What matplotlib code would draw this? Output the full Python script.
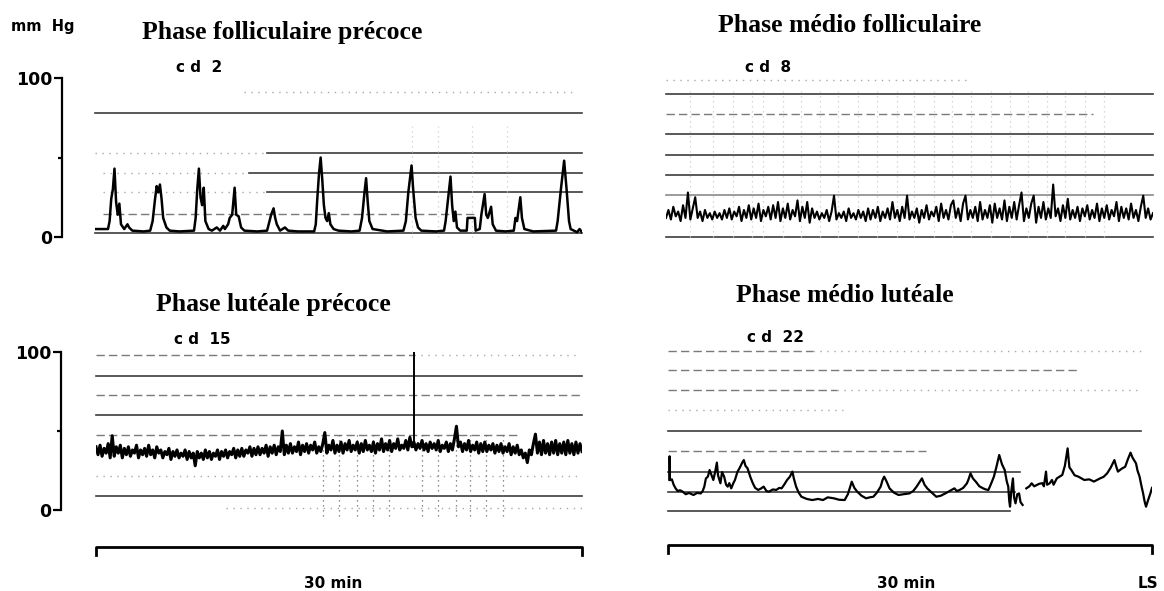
import matplotlib.pyplot as plt
import numpy as np

W, H = 1164, 591  # output size in pixels

# ---- recordings: time in min (one strip = 30 min), pressure in mm Hg ----
# cd 2 - early follicular phase
cd2_t = [0.0, 0.8, 0.9, 1.0, 1.1, 1.2, 1.3, 1.4, 1.5, 1.6,
         1.8, 2.0, 2.1, 2.3, 3.0, 3.4, 3.55, 3.7, 3.8, 3.9,
         4.0, 4.1, 4.2, 4.4, 4.6, 5.2, 6.1, 6.2, 6.3, 6.4,
         6.5, 6.6, 6.7, 6.8, 7.0, 7.2, 7.5, 7.7, 7.9, 8.0,
         8.2, 8.3, 8.45, 8.6, 8.7, 8.85, 9.0, 9.2, 10.0, 10.6,
         10.7, 10.85, 11.0, 11.1, 11.2, 11.4, 11.7, 11.9, 12.5, 13.5,
         13.6, 13.7, 13.8, 13.9, 14.0, 14.1, 14.2, 14.3, 14.4, 14.5,
         14.7, 15.0, 15.8, 16.3, 16.45, 16.6, 16.7, 16.8, 16.9, 17.1,
         18.0, 19.0, 19.15, 19.3, 19.5, 19.6, 19.75, 19.9, 20.1, 21.0,
         21.5, 21.6, 21.75, 21.9, 22.0, 22.1, 22.2, 22.3, 22.5, 22.9,
         22.95, 23.4, 23.45, 23.7, 23.8, 24.0, 24.1, 24.2, 24.4, 24.5,
         24.7, 25.3, 25.8, 25.9, 26.0, 26.2, 26.3, 26.45, 27.0, 28.4,
         28.5, 28.7, 28.9, 29.05, 29.2, 29.3, 29.5, 29.7, 29.85, 30.0]
cd2_p = [5, 5, 10, 24, 30, 43, 22, 14, 21, 8,
         5, 8, 6, 4, 3.5, 4, 10, 24, 32, 28,
         33, 24, 12, 6, 4, 3.5, 4, 12, 30, 43,
         25, 20, 31, 10, 5, 4, 6, 4, 7, 5,
         8, 12, 14, 31, 14, 13, 6, 4, 3.5, 4,
         8, 14, 18, 12, 8, 4, 6, 4, 3.5, 3.5,
         8, 25, 40, 50, 36, 20, 12, 10, 15, 8,
         5, 4, 3.5, 4, 12, 28, 37, 22, 10, 5,
         3.5, 4, 10, 28, 45, 30, 12, 6, 4, 3.5,
         4, 10, 24, 38, 20, 10, 16, 6, 4, 4,
         12, 12, 4, 5, 14, 27, 14, 12, 19, 8,
         4, 3.5, 4, 12, 10, 25, 12, 5, 3.5, 4,
         10, 30, 48, 30, 10, 5, 4, 3, 5, 3]

# cd 8 - mid follicular phase, regular samples over the strip
cd8_p = [12, 17, 11, 19, 13, 16, 10, 20, 12, 28, 11, 18, 25, 12, 16, 10, 17, 12, 15, 11,
         16, 12, 15, 11, 17, 12, 18, 11, 16, 13, 19, 10, 17, 12, 20, 11, 18, 12, 21, 10,
         17, 13, 19, 11, 20, 12, 22, 10, 18, 12, 21, 11, 17, 13, 23, 10, 19, 12, 22, 9,
         18, 12, 16, 11, 15, 12, 17, 10, 16, 26, 11, 15, 12, 16, 10, 18, 12, 15, 11, 17,
         12, 16, 10, 18, 11, 17, 12, 19, 10, 16, 12, 18, 11, 22, 12, 17, 10, 19, 12, 26,
         11, 16, 12, 18, 9, 17, 12, 20, 11, 16, 13, 19, 10, 21, 12, 17, 11, 20, 23, 12,
         18, 10, 21, 26, 11, 17, 12, 19, 10, 22, 11, 17, 12, 20, 9, 21, 12, 18, 11, 23,
         10, 19, 12, 22, 11, 20, 28, 10, 18, 12, 21, 26, 9, 19, 12, 22, 11, 18, 12, 33,
         13, 18, 10, 20, 12, 24, 11, 17, 12, 19, 10, 18, 13, 20, 11, 17, 12, 21, 10, 18,
         12, 20, 11, 17, 13, 22, 10, 19, 12, 18, 11, 21, 12, 17, 10, 19, 26, 12, 18, 11,
         15]

# cd 15 - early luteal phase, regular samples over the strip
cd15_p = [40, 35, 41, 34, 39, 36, 42, 33,
          47, 34, 40, 36, 41, 33, 39, 35,
          40, 34, 38, 36, 41, 33, 38, 35,
          39, 34, 41, 35, 38, 33, 40, 36,
          38, 33, 37, 35, 39, 32, 37, 34,
          38, 33, 36, 34, 38, 32, 37, 33,
          36, 28, 37, 33, 36, 32, 38, 33,
          37, 32, 36, 34, 38, 32, 37, 34,
          38, 33, 37, 35, 39, 33, 38, 34,
          39, 34, 38, 36, 40, 34, 39, 35,
          40, 35, 39, 36, 41, 34, 40, 36,
          41, 35, 40, 37, 50, 35, 41, 36,
          42, 36, 40, 37, 43, 35, 41, 37,
          42, 36, 41, 38, 43, 36, 40, 37,
          42, 49, 36, 41, 38, 44, 36, 41,
          37, 43, 36, 42, 38, 44, 37, 41,
          38, 43, 36, 42, 37, 44, 38, 41,
          37, 43, 36, 42, 38, 45, 37, 42,
          38, 44, 37, 42, 39, 45, 38, 41,
          39, 44, 38, 46, 40, 43, 38, 42,
          39, 44, 38, 42, 37, 43, 39, 42,
          38, 44, 37, 41, 39, 43, 37, 42,
          38, 45, 53, 40, 43, 37, 42, 38,
          44, 37, 41, 38, 43, 36, 42, 37,
          43, 37, 41, 38, 42, 36, 41, 37,
          42, 36, 40, 37, 42, 35, 40, 36,
          41, 35, 38, 33, 36, 30, 38, 35,
          42, 48, 36, 43, 35, 44, 36, 42,
          35, 43, 36, 44, 35, 42, 36, 43,
          35, 44, 36, 42, 35, 43, 36, 42,
          37]
cd15_mark_t = 19.6          # vertical event mark
cd15_mark_p = [40, 101]

# cd 22 - mid luteal phase (nan = pen lifted)
cd22_t = [0.09, 0.10, 0.12, 0.24, 0.35, 0.47, 0.6, 0.75, 0.91, 1.1,
          1.3, 1.58, 1.8, 2.03, 2.15, 2.25, 2.35, 2.47, 2.58, 2.7,
          2.81, 2.92, 3.03, 3.1, 3.25, 3.35, 3.48, 3.6, 3.7, 3.8,
          3.92, 4.05, 4.15, 4.3, 4.48, 4.6, 4.7, 4.8, 4.93, 5.1,
          5.26, 5.4, 5.59, 5.75, 5.93, 6.1, 6.26, 6.5, 6.71, 6.9,
          7.04, 7.2, 7.38, 7.55, 7.71, 7.8, 7.94, 8.1, 8.27, 8.6,
          8.94, 9.3, 9.61, 9.9, 10.28, 10.6, 10.95, 11.15, 11.39, 11.55,
          11.73, 12.0, 12.28, 12.5, 12.73, 12.95, 13.18, 13.3, 13.4, 13.55,
          13.73, 14.0, 14.29, 14.6, 14.96, 15.2, 15.41, 15.55, 15.74, 15.9,
          16.07, 16.35, 16.63, 16.9, 17.19, 17.45, 17.75, 17.9, 18.08, 18.3,
          18.53, 18.65, 18.75, 18.9, 19.08, 19.3, 19.53, 19.7, 19.86, 20.0,
          20.2, 20.35, 20.53, 20.7, 20.87, 21.0, 21.09, 21.15, 21.2, 21.28,
          21.38, 21.45, 21.54, 21.65, 21.76, 21.85, 21.98, 22.1, 22.21, 22.4,
          22.54, 22.7, 22.99, 23.2, 23.3, 23.43, 23.5, 23.66, 23.8, 23.9,
          24.1, 24.25, 24.44, 24.6, 24.77, 24.88, 25.0, 25.2, 25.44, 25.8,
          26.11, 26.4, 26.78, 27.0, 27.22, 27.45, 27.67, 27.8, 27.89, 28.1,
          28.34, 28.5, 28.67, 28.8, 29.01, 29.1, 29.23, 29.35, 29.45, 29.55,
          29.63, 29.75, 29.9, 30.0]
cd22_p = [19, 34, 19, 19.4, 16, 13.7, 12, 12.5, 11.6, 10,
          10.8, 9.5, 10.8, 10.5, 12, 14.8, 20, 21.1, 25.3, 22,
          19, 24, 30, 22, 16.9, 24, 21.1, 16, 14.8, 17,
          13.7, 17, 19, 24, 27.4, 30, 31.6, 28, 26.4, 21,
          16.9, 14, 12.7, 13.5, 14.8, 12, 11.6, 13, 12.7, 14,
          13.7, 16, 19, 21, 24.3, 20, 14.8, 11, 8.4, 7,
          6.3, 7, 6.3, 8, 7.4, 6.5, 6.3, 10, 17.9, 14,
          11.6, 9, 7.4, 8, 8.4, 11, 14.8, 19, 21.1, 18,
          13.7, 11, 9.5, 10, 10.5, 12, 14.8, 17, 20, 16,
          13.7, 11, 8.4, 9, 10.5, 12, 13.7, 12, 12.7, 14,
          16.9, 20, 23.2, 20, 17.9, 15, 13.7, 13, 12.7, 16,
          21.1, 27, 34.8, 29, 25.3, 18, 14.8, 6, 2.1, 12,
          20, 8, 4.2, 10, 10.5, 5, 3.2, np.nan, 13.7, 15,
          16.9, 15, 16.5, 17, 15, 24.3, 16, 16.9, 19, 16,
          20, 21, 22.2, 28, 39, 27, 25.3, 22, 21.1, 19,
          19.4, 18, 20, 21, 23.2, 27, 31.6, 27, 24.3, 26,
          27.4, 32, 36.3, 33, 29.5, 25, 21.1, 15, 10.5, 5,
          2.1, 6, 10.5, 14]

titles = ["Phase folliculaire précoce", "Phase médio folliculaire",
          "Phase lutéale précoce", "Phase médio lutéale"]
day_labels = ["c d  2", "c d  8", "c d  15", "c d  22"]
y_ticks = [0, 100]
y_tick_labels = ["0", "100"]
strip_minutes = 30

# chart paper lines: (level mm Hg, from min, to min, kind)
paper_cd2 = [(91, 9.2, 29.4, "dot"), (78, 0, 30, "solid"),
             (53, 0, 10.6, "dot"), (53, 10.6, 30, "solid"),
             (40, 0.5, 9.5, "dot"), (40, 9.5, 30, "solid"),
             (28, 0.5, 10.6, "dot"), (28, 10.6, 30, "solid"),
             (14.5, 0.5, 23.5, "dash"), (2.5, 0, 30, "solid")]
paper_cd8 = [(99, 0, 18.5, "dot"), (90, 0, 30, "solid"), (77.4, 0, 26.3, "dash"),
             (64.8, 0, 30, "solid"), (51.6, 0, 30, "solid"), (39, 0, 30, "solid"),
             (26.4, 0, 30, "grey"), (0, 0, 30, "solid")]
paper_cd15 = [(98, 0, 19.6, "dash"), (98, 19.6, 29.6, "dot"), (84.8, 0, 30, "solid"),
              (72.8, 0, 30, "dash"), (60.1, 0, 30, "solid"), (47.5, 0, 26, "dash"),
              (21.5, 0, 30, "dot"), (8.9, 0, 30, "solid"), (1.3, 8, 30, "dot")]
paper_cd22 = [(100.6, 0, 9, "dash"), (100.6, 9, 29.3, "dot"), (88.6, 0, 25.5, "dash"),
              (75.9, 0, 10.5, "dash"), (75.9, 10.5, 29.3, "dot"), (63.3, 0, 11, "dot"),
              (50, 0, 29.3, "solid"), (37.3, 0, 16, "dash"), (24, 0, 21.8, "solid"),
              (11.4, 0, 21.5, "solid"), (-0.6, 0, 21.2, "solid")]
verticals_cd2 = [19.5, 21.1, 23.2, 25.4]
verticals_cd8 = [1.5, 2.9, 4.1, 5.3, 6.0, 7.2, 8.3, 9.5, 10.6, 11.8, 13.0, 14.2,
                 15.3, 16.5, 17.6, 18.8, 20.0, 21.2, 22.3, 23.5, 24.6, 25.8, 27.0]
verticals_cd15 = [14.0, 15.0, 16.1, 17.1, 18.1, 20.1, 21.1, 22.2, 23.1, 24.1, 25.1]

PAPER = {
    "solid": dict(color="#3c3c3c", lw=1.2, ls="-"),
    "grey": dict(color="#8a8a8a", lw=1.2, ls="-"),
    "dash": dict(color="#7a7a7a", lw=1.0, ls=(0, (6, 3))),
    "dot": dict(color="#a8a8a8", lw=1.0, ls=(0, (1, 4))),
}

fig = plt.figure(figsize=(W / 100, H / 100), dpi=100)
fig.patch.set_facecolor("white")


def px_axes(x0, x1, y_top, y_bot):
    # axes placed by pixel box (y from top), 0..30 min by 0..100 mm Hg
    ax = fig.add_axes([x0 / W, 1 - y_bot / H, (x1 - x0) / W, (y_bot - y_top) / H])
    ax.set_xlim(0, strip_minutes)
    ax.set_ylim(0, 100)
    for sp in ax.spines.values():
        sp.set_visible(False)
    ax.set_xticks([])
    ax.set_yticks([])
    ax.patch.set_alpha(0)
    return ax


def paper(ax, lines, verticals=(), v_range=(0, 90), v_color="#cccccc"):
    for lv, t0, t1, kind in lines:
        ax.plot([t0, t1], [lv, lv], clip_on=False, zorder=1, **PAPER[kind])
    for t in verticals:
        ax.plot([t, t], v_range, color=v_color, lw=0.9, ls=(0, (1, 3)),
                clip_on=False, zorder=1)


def y_axis(ax, offset_px):
    sp = ax.spines["left"]
    sp.set_visible(True)
    sp.set_position(("outward", offset_px * 72 / 100))
    sp.set_bounds(0, 100)
    sp.set_linewidth(1.6)
    ax.set_yticks(y_ticks)
    ax.set_yticklabels(y_tick_labels)
    ax.set_yticks([50], minor=True)
    ax.tick_params(axis="y", which="major", direction="out", length=6,
                   width=1.6, pad=1, labelsize=12.5)
    ax.tick_params(axis="y", which="minor", direction="out", length=3, width=1.6)
    for lb in ax.get_yticklabels():
        lb.set_fontweight("bold")


def time_bar(ax, y, drop):
    ax.plot([0, 0, strip_minutes, strip_minutes], [y - drop, y, y, y - drop],
            color="black", lw=2, clip_on=False)


def ftext(x, y, s, **kw):
    fig.text(x / W, 1 - y / H, s, va="center", **kw)


serif = dict(family="Liberation Serif", weight="bold", fontsize=18.5, ha="center")
sans = dict(family="DejaVu Sans", weight="bold", fontsize=11, ha="left")

# top left - cd 2
ax1 = px_axes(95, 582, 78, 237)
paper(ax1, paper_cd2, verticals_cd2, (0, 70))
ax1.plot(cd2_t, cd2_p, color="black", lw=1.8, zorder=3)
y_axis(ax1, 33)

# top right - cd 8
ax2 = px_axes(666, 1153, 78, 237)
paper(ax2, paper_cd8, verticals_cd8, (0, 92))
ax2.plot(np.linspace(0, strip_minutes, len(cd8_p)), cd8_p, color="black", lw=1.5, zorder=3)

# bottom left - cd 15
ax3 = px_axes(96, 582, 352, 510)
paper(ax3, paper_cd15, verticals_cd15, (-4, 50), "#6a6a6a")
ax3.plot(np.linspace(0, strip_minutes, len(cd15_p)), cd15_p, color="black", lw=2.2, zorder=3)
ax3.plot([cd15_mark_t, cd15_mark_t], cd15_mark_p, color="black", lw=1.4, zorder=3)
y_axis(ax3, 35)
time_bar(ax3, -23.4, 5)

# bottom right - cd 22
ax4 = px_axes(668, 1152, 352, 510)
paper(ax4, paper_cd22)
ax4.plot(cd22_t, cd22_p, color="black", lw=1.6, zorder=3)
time_bar(ax4, -22.2, 5)

# texts
ftext(11, 27, "mm  Hg", **{**sans, "fontsize": 10.5})
ftext(282, 32, titles[0], **serif)
ftext(850, 26, titles[1], **serif)
ftext(273, 305, titles[2], **serif)
ftext(845, 296, titles[3], **serif)
ftext(176, 68, day_labels[0], **sans)
ftext(745, 67, day_labels[1], **sans)
ftext(174, 340, day_labels[2], **sans)
ftext(747, 338, day_labels[3], **sans)
ftext(333, 583, "30 min", **{**sans, "ha": "center"})
ftext(906, 583, "30 min", **{**sans, "ha": "center"})
ftext(1148, 583, "LS", **{**sans, "ha": "center"})

fig.savefig("out.png", dpi=100, facecolor="white")
